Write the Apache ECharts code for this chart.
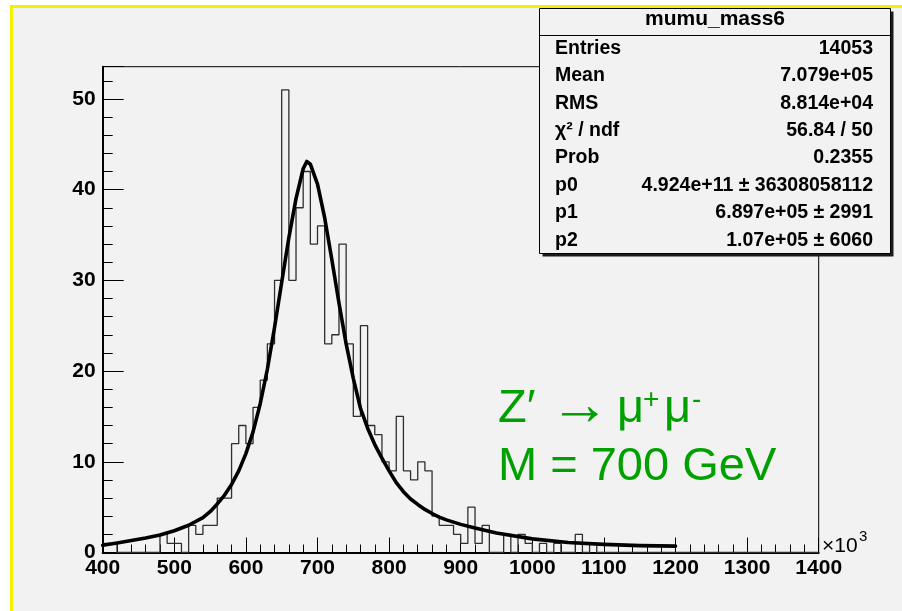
<!DOCTYPE html>
<html>
<head>
<meta charset="utf-8">
<title>mumu_mass6</title>
<script src="https://cdn.jsdelivr.net/npm/echarts@6/dist/echarts.min.js"></script>
<style>
  html, body { margin: 0; padding: 0; background: #ffffff; }
  #page { position: relative; width: 902px; height: 611px; overflow: hidden; background: #ffffff; }
  #pad { position: absolute; left: 10px; top: 5px; right: 0; bottom: 0; background: #f2f2f2;
         border-left: 3px solid #f4f000; border-top: 3px solid #f4f000; }
  #chart { position: absolute; left: 0; top: 0; width: 902px; height: 611px; }
</style>
</head>
<body>
<div id="page"><div id="pad"></div><div id="chart"></div></div>
<script>
// Dimuon invariant mass histogram (10 GeV bins, x in units of 10^3 MeV)
const binLow = 400;
const binWidth = 10;
const counts = [
  1, 1, 0, 0, 0, 0, 0, 0, 2, 1,        // 400-490
  1, 0, 3, 2, 3, 3, 6, 6, 12, 14,      // 500-590
  12, 16, 19, 23, 30, 51, 30, 38, 42, 34, // 600-690
  36, 23, 24, 34, 23, 15, 25, 14, 13, 10, // 700-790
  9, 15, 9, 8, 10, 9, 4, 3, 3, 2,      // 800-890
  1, 5, 1, 3, 0, 0, 2, 0, 2, 1,        // 900-990
  0, 1, 0, 1, 0, 0, 2, 0, 1, 0,        // 1000-1090
  0, 0, 0, 0, 0, 0, 0, 0, 0, 0,        // 1100-1190
  0, 0, 0, 0, 0, 0, 0, 0, 0, 0,        // 1200-1290
  0, 0, 0, 0, 0, 0, 0, 0, 0, 0         // 1300-1390
];

// Fitted Breit-Wigner curve over the fit range 400-1200
const fitMass = [400, 420, 440, 460, 480, 500, 520, 540, 550, 560, 570, 580, 590, 600, 610, 620,
                 630, 640, 650, 660, 670, 680, 685, 690, 700, 710, 720, 730, 740, 750, 760, 770,
                 780, 790, 800, 810, 820, 830, 840, 850, 860, 870, 880, 900, 920, 950, 1000, 1050,
                 1100, 1150, 1200];
const fitValue = [0.80, 1.05, 1.33, 1.60, 1.92, 2.40, 3.00, 3.85, 4.50, 5.35, 6.30, 7.50, 9.00, 10.9, 13.3, 16.4,
                  20.2, 24.8, 29.8, 34.7, 39.0, 42.3, 43.1, 42.8, 40.6, 36.9, 32.3, 27.5, 23.0, 19.2, 15.9, 13.7,
                  11.9, 10.4, 9.0, 7.7, 6.7, 5.9, 5.3, 4.75, 4.3, 3.9, 3.6, 3.1, 2.7, 2.15, 1.5, 1.1,
                  0.9, 0.76, 0.70];

const xMin = 400, xMax = 1400, xStep = 100;
const yMin = 0, yMax = 53.55, yStep = 10, yMinorStep = 2;

const statsTitle = 'mumu_mass6';
const statsLabels = ['Entries', 'Mean', 'RMS', 'χ² / ndf', 'Prob', 'p0', 'p1', 'p2'];
const statsValues = ['14053', '7.079e+05', '8.814e+04', '56.84 / 50', '0.2355',
                     '4.924e+11 ± 36308058112', '6.897e+05 ± 2991', '1.07e+05 ± 6060'];

const FONT = '"Liberation Sans", Arial, Helvetica, sans-serif';
const GREEN = '#00a000';

// Step outline: one point per bin low edge, closed at the upper edge of the last bin
const histData = counts.map((c, i) => [binLow + i * binWidth, c]);
histData.push([binLow + counts.length * binWidth, counts[counts.length - 1]]);
const fitData = fitMass.map((m, i) => [m, fitValue[i]]);

// Statistics box
const box = { x: 539.5, y: 8.5, w: 351, h: 245, titleH: 27 };
const rowTop = 48.5, rowStep = 27.4;
const statsGraphics = [
  { type: 'rect', z: 100, silent: true,
    shape: { x: box.x + 3, y: box.y + 3, width: box.w, height: box.h },
    style: { fill: '#1c1c1c' } },
  { type: 'rect', z: 101, silent: true,
    shape: { x: box.x, y: box.y, width: box.w, height: box.h },
    style: { fill: '#f2f2f2', stroke: '#000', lineWidth: 1 } },
  { type: 'line', z: 102, silent: true,
    shape: { x1: box.x, y1: box.y + box.titleH, x2: box.x + box.w, y2: box.y + box.titleH },
    style: { stroke: '#000', lineWidth: 1 } },
  { type: 'text', z: 103, silent: true, x: box.x + box.w / 2, y: 19,
    style: { text: statsTitle, fill: '#000', font: 'bold 21px ' + FONT, textAlign: 'center', textVerticalAlign: 'middle' } }
];
statsLabels.forEach((lab, i) => {
  statsGraphics.push({ type: 'text', z: 103, silent: true, x: 555, y: rowTop + i * rowStep,
    style: { text: lab, fill: '#000', font: 'bold 19.5px ' + FONT, textAlign: 'left', textVerticalAlign: 'middle' } });
  statsGraphics.push({ type: 'text', z: 103, silent: true, x: 873, y: rowTop + i * rowStep,
    style: { text: statsValues[i], fill: '#000', font: 'bold 19.5px ' + FONT, textAlign: 'right', textVerticalAlign: 'middle' } });
});

// Process label, set piece by piece
function plainText(str, x, y, size, color, align) {
  return { type: 'text', z: 50, silent: true, x: x, y: y,
    style: { text: str, fill: color, font: size + 'px ' + FONT, textAlign: align || 'left', textVerticalAlign: 'middle' } };
}
const labelGraphics = [
  plainText('Z′', 498, 409, 47, GREEN),
  plainText('→', 580, 407, 60, GREEN, 'center'),
  plainText('μ', 617, 409, 47, GREEN),
  plainText('+', 643, 400, 28, GREEN),
  plainText('μ', 664, 409, 47, GREEN),
  plainText('-', 692, 400, 28, GREEN),
  plainText('M = 700 GeV', 498, 467, 47, GREEN),
  plainText('×10', 822, 546, 21, '#000'),
  plainText('3', 859, 537, 15, '#000')
];

const chart = echarts.init(document.getElementById('chart'), null, { renderer: 'canvas' });
chart.setOption({
  animation: false,
  backgroundColor: 'transparent',
  grid: { left: 102.7, right: 83.3, top: 66.7, bottom: 58.5, show: true,
          borderColor: '#000', borderWidth: 1, backgroundColor: 'transparent' },
  xAxis: {
    type: 'value', min: xMin, max: xMax, interval: xStep,
    axisLine: { show: true, lineStyle: { color: '#000', width: 2 } },
    axisTick: { show: true, inside: true, length: 15, lineStyle: { color: '#000', width: 1 } },
    minorTick: { show: true, splitNumber: 5, length: 8, lineStyle: { color: '#000', width: 1 } },
    splitLine: { show: false },
    axisLabel: { color: '#000', fontFamily: FONT, fontWeight: 'bold', fontSize: 21, margin: 5,
                 formatter: v => String(v) }
  },
  yAxis: [
    {
      type: 'value', min: yMin, max: yMax, interval: yStep,
      axisLine: { show: true, lineStyle: { color: '#000', width: 2 } },
      axisTick: { show: true, inside: true, length: 21, lineStyle: { color: '#000', width: 1 } },
      splitLine: { show: false },
      axisLabel: { color: '#000', fontFamily: FONT, fontWeight: 'bold', fontSize: 21, margin: 7,
                   formatter: v => (v % yStep === 0 ? String(v) : '') }
    },
    {
      type: 'value', min: yMin, max: yMax, interval: yMinorStep, position: 'left',
      axisLine: { show: false },
      axisTick: { show: true, inside: true, length: 10, lineStyle: { color: '#000', width: 1 } },
      splitLine: { show: false },
      axisLabel: { show: false }
    }
  ],
  series: [
    { name: 'mumu_mass6', type: 'line', step: 'end', data: histData, yAxisIndex: 0,
      symbol: 'none', z: 2, lineStyle: { color: '#2e2e2e', width: 1.3 } },
    { name: 'fit', type: 'line', data: fitData, yAxisIndex: 0, smooth: false,
      symbol: 'none', z: 3, lineStyle: { color: '#000', width: 3.6, join: 'round', cap: 'round' } }
  ],
  graphic: statsGraphics.concat(labelGraphics)
});
</script>
</body>
</html>
